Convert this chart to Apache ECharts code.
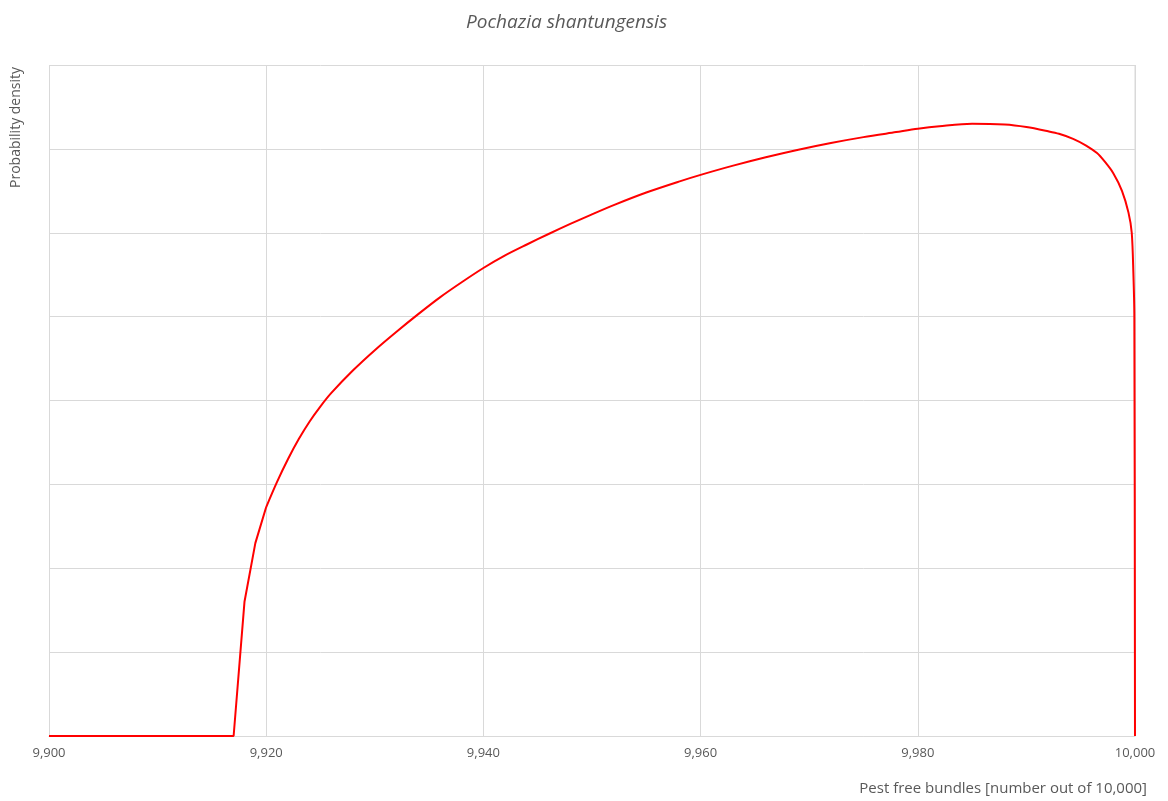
<!DOCTYPE html>
<html>
<head>
<meta charset="utf-8">
<script src="https://cdn.jsdelivr.net/npm/echarts@6/dist/echarts.min.js"></script>
<style>html,body{margin:0;padding:0;background:#fff}#c{width:1168px;height:801px}</style>
</head>
<body>
<div id="c"></div>
<script>
var titleText = 'Pochazia shantungensis';
var xAxisTitle = 'Pest free bundles [number out of 10,000]';
var yAxisTitle = 'Probability density';
// left tail and first steps (straight segments)
var xStart = [9900, 9917, 9918, 9919, 9920];
var yStart = [0, 0, 1.60, 2.30, 2.73];
// main body of the curve (smooth)
var xBody = [9920, 9921, 9922, 9923, 9924, 9925, 9926, 9928, 9930, 9932, 9934, 9936, 9938, 9940, 9942, 9944, 9946, 9948, 9950, 9952, 9955, 9958, 9960, 9963, 9966, 9969, 9972, 9975, 9978, 9980, 9982, 9985, 9988, 9990, 9992, 9993, 9994.3, 9995.5, 9996.5, 9997.2, 9998, 9998.8, 9999.4, 9999.7, 9999.85, 9999.94, 10000];
var yBody = [2.73, 3.03, 3.30, 3.54, 3.75, 3.93, 4.09, 4.36, 4.60, 4.82, 5.03, 5.23, 5.41, 5.58, 5.73, 5.86, 5.985, 6.105, 6.22, 6.33, 6.48, 6.61, 6.69, 6.80, 6.90, 6.99, 7.07, 7.14, 7.20, 7.24, 7.27, 7.30, 7.29, 7.26, 7.21, 7.18, 7.12, 7.04, 6.95, 6.85, 6.71, 6.50, 6.24, 6.00, 5.52, 5.00, 0];
var xTicks = [9900, 9920, 9940, 9960, 9980, 10000];

function pairs(xs, ys) { return xs.map(function (x, i) { return [x, ys[i]]; }); }

var chart = echarts.init(document.getElementById('c'), null, {renderer: 'canvas'});
chart.setOption({
  animation: false,
  backgroundColor: '#ffffff',
  title: {
    text: titleText,
    left: 461, top: 8,
    textStyle: {fontFamily: 'Open Sans', fontStyle: 'italic', fontWeight: 'normal', fontSize: 19, color: '#595959'}
  },
  grid: {left: 49, right: 33, top: 65, bottom: 65, containLabel: false},
  xAxis: {
    type: 'value', min: 9900, max: 10000, interval: 20,
    axisLine: {show: true, lineStyle: {color: '#d9d9d9', width: 1}},
    axisTick: {show: false},
    splitLine: {show: true, lineStyle: {color: '#d9d9d9', width: 1}},
    axisLabel: {
      color: '#595959', fontFamily: 'Open Sans', fontSize: 13, margin: 11,
      formatter: function (v) { return xTicks.indexOf(v) >= 0 ? v.toLocaleString('en-US') : ''; }
    }
  },
  yAxis: {
    type: 'value', min: 0, max: 8, interval: 1,
    axisLine: {show: false}, axisTick: {show: false}, axisLabel: {show: false},
    splitLine: {show: true, lineStyle: {color: '#d9d9d9', width: 1}}
  },
  graphic: [
    {type: 'text', x: 16, y: 67, rotation: Math.PI / 2,
     style: {text: yAxisTitle, fill: '#595959', font: '14px "Open Sans"', textAlign: 'right', textVerticalAlign: 'middle'}},
    {type: 'text', x: 1147, y: 789,
     style: {text: xAxisTitle, fill: '#595959', font: '15px "Open Sans"', textAlign: 'right', textVerticalAlign: 'middle'}},
    {type: 'line', shape: {x1: 1135, y1: 65, x2: 1135, y2: 736}, style: {stroke: '#d9d9d9', lineWidth: 1}, z: 0}
  ],
  series: [{
    type: 'line', data: pairs(xStart, yStart), showSymbol: false, symbol: 'none', smooth: false,
    lineStyle: {color: '#ff0000', width: 2}, z: 5, clip: false
  }, {
    type: 'line', data: pairs(xBody, yBody), showSymbol: false, symbol: 'none', smooth: 0.3,
    lineStyle: {color: '#ff0000', width: 2}, z: 5, clip: false
  }]
});
</script>
</body>
</html>
